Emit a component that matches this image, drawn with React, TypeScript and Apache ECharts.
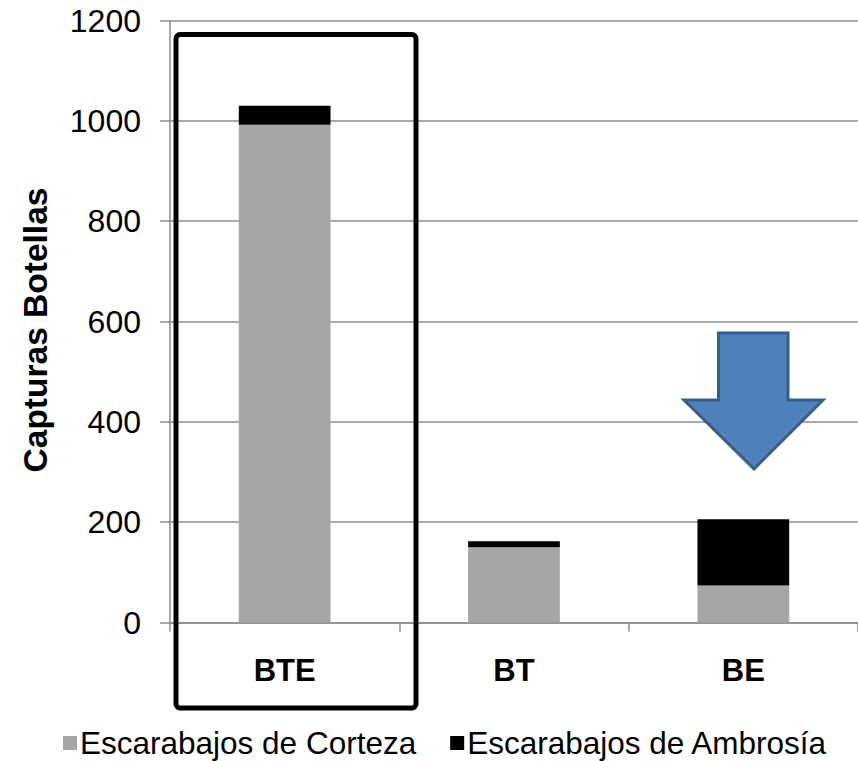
import React, { useEffect, useRef } from "react";
import * as echarts from "echarts";

const categories = ["BTE", "BT", "BE"];
const corteza = [992, 150, 74];
const ambrosia = [38, 12, 132];
const seriesNames = ["Escarabajos de Corteza", "Escarabajos de Ambrosía"];
const yTicks = { min: 0, max: 1200, interval: 200 };
const yTitle = "Capturas Botellas";

export default function App() {
  const ref = useRef<HTMLDivElement>(null);
  useEffect(() => {
    if (!ref.current) return;
    const chart = echarts.init(ref.current, null, { renderer: "svg" });
    const font = "Liberation Sans, Arial, sans-serif";
    chart.setOption({
      animation: false,
      backgroundColor: "#fff",
      textStyle: { fontFamily: font },
      grid: { left: 170, right: -8, top: 20.5, bottom: 138.5, containLabel: false },
      legend: {
        left: 58,
        top: 722,
        itemWidth: 14,
        itemHeight: 14,
        itemGap: 34,
        icon: "rect",
        textStyle: { fontSize: 31.5, color: "#000", fontFamily: font, padding: [0, 0, 0, -2] },
        data: seriesNames,
      },
      xAxis: {
        type: "category",
        data: categories,
        axisLine: { lineStyle: { color: "#8c8c8c", width: 1.5 } },
        axisTick: { show: true, length: 9, lineStyle: { color: "#8c8c8c", width: 1.5 } },
        axisLabel: { fontSize: 31, fontWeight: "bold", color: "#000", margin: 32, fontFamily: font },
      },
      yAxis: {
        type: "value",
        min: yTicks.min,
        max: yTicks.max,
        interval: yTicks.interval,
        axisLine: { show: true, lineStyle: { color: "#8c8c8c", width: 1.5 } },
        axisTick: { show: true, length: 10, lineStyle: { color: "#8c8c8c", width: 1.5 } },
        axisLabel: {
          fontSize: 32,
          color: "#000",
          margin: 29,
          fontFamily: font,
          formatter: (v: number) => String(v),
        },
        splitLine: { lineStyle: { color: "#8c8c8c", width: 1.5 } },
      },
      series: [
        {
          name: seriesNames[0],
          type: "bar",
          stack: "total",
          barWidth: "40%",
          data: corteza,
          itemStyle: { color: "#a6a6a6" },
        },
        {
          name: seriesNames[1],
          type: "bar",
          stack: "total",
          barWidth: "40%",
          data: ambrosia,
          itemStyle: { color: "#000000" },
        },
      ],
      graphic: [
        {
          type: "text",
          x: 35,
          y: 330,
          rotation: Math.PI / 2,
          style: {
            text: yTitle,
            fontSize: 33.5,
            fontWeight: "bold",
            fontFamily: font,
            fill: "#000",
            align: "center",
            verticalAlign: "middle",
          },
        },
        {
          type: "rect",
          z: 100,
          shape: { x: 176, y: 34.5, width: 240, height: 673.5, r: 4 },
          style: { fill: "none", stroke: "#000", lineWidth: 5 },
        },
        {
          type: "polygon",
          z: 100,
          shape: {
            points: [
              [718.5, 333],
              [788, 333],
              [788, 400],
              [823, 400],
              [754, 469],
              [684, 400],
              [718.5, 400],
            ],
          },
          style: { fill: "#4f81bd", stroke: "#385d8a", lineWidth: 3 },
        },
      ],
    });
    return () => chart.dispose();
  }, []);
  return (
    <div
      ref={ref}
      style={{ position: "fixed", left: 0, top: 0, width: 858, height: 761 }}
    />
  );
}
